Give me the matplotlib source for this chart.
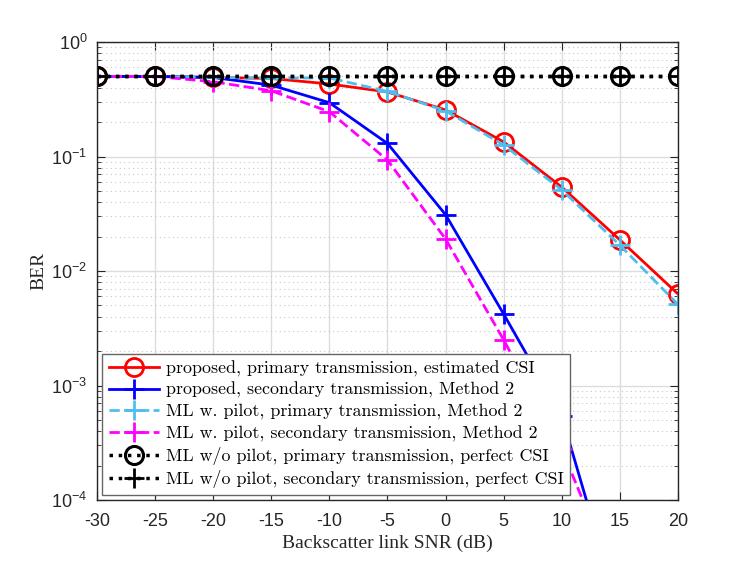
import matplotlib
matplotlib.use("Agg")
import matplotlib.pyplot as plt
from matplotlib.ticker import LogLocator, NullFormatter

plt.rcParams["mathtext.fontset"] = "custom"
plt.rcParams["mathtext.rm"] = "Liberation Sans"
plt.rcParams["mathtext.it"] = "Liberation Sans"

snr = [-30, -25, -20, -15, -10, -5, 0, 5, 10, 15, 20]

ber_prop_primary = [0.5, 0.5, 0.49, 0.48, 0.43, 0.366, 0.255, 0.134, 0.054, 0.0187, 0.0063]
ber_prop_secondary = [0.5, 0.5, 0.49, 0.42, 0.295, 0.13, 0.031, 0.0042, 5.4e-4, 1.0e-5, 2.0e-7]
ber_ml_primary = [0.5, 0.5, 0.49, 0.485, 0.485, 0.37, 0.25, 0.126, 0.051, 0.0168, 0.0051]
ber_ml_secondary = [0.5, 0.5, 0.45, 0.375, 0.246, 0.093, 0.019, 0.0025, 2.8e-4, 1.6e-5, 4.0e-7]
ber_nopilot_primary = [0.5] * 11
ber_nopilot_secondary = [0.5] * 11

labels = [
    "proposed, primary transmission, estimated CSI",
    "proposed, secondary transmission, Method 2",
    "ML w. pilot, primary transmission, Method 2",
    "ML w. pilot, secondary transmission, Method 2",
    "ML w/o pilot, primary transmission, perfect CSI",
    "ML w/o pilot, secondary transmission, perfect CSI",
]

fig = plt.figure(figsize=(7.47, 5.61), dpi=100)
ax = fig.add_axes([97 / 747, 61 / 561, 581 / 747, 458 / 561])

ax.semilogy(snr, ber_prop_primary, color="red", ls="-", lw=2, marker="o",
            ms=13, mfc="none", mew=2, label=labels[0])
ax.semilogy(snr, ber_prop_secondary, color="blue", ls="-", lw=2, marker="+",
            ms=15, mew=2, label=labels[1])
ax.semilogy(snr, ber_ml_primary, color="#4dbeee", ls="--", lw=2, marker="+",
            ms=15, mew=2, label=labels[2])
ax.semilogy(snr, ber_ml_secondary, color="magenta", ls="--", lw=2, marker="+",
            ms=15, mew=2, label=labels[3])
ax.semilogy(snr, ber_nopilot_primary, color="black", ls=":", lw=2.5, marker="o",
            ms=13, mfc="none", mew=2.2, label=labels[4])
ax.semilogy(snr, ber_nopilot_secondary, color="black", ls=":", lw=2.5, marker="+",
            ms=15, mew=2, label=labels[5])

ax.set_xlim(-30, 20)
ax.set_ylim(1e-4, 1)
ax.set_xticks(snr)
ax.set_xticklabels([str(v) for v in snr])
ax.yaxis.set_major_locator(LogLocator(base=10, numticks=10))
ax.yaxis.set_minor_locator(LogLocator(base=10, subs=range(2, 10), numticks=20))
ax.yaxis.set_minor_formatter(NullFormatter())

ax.grid(True, which="major", color="#dcdcdc", lw=1, ls="-")
ax.grid(True, which="minor", axis="y", color="#c8c8c8", lw=0.8, ls=(0, (1, 3)))
ax.set_axisbelow(True)

for s in ax.spines.values():
    s.set_color("#262626")
    s.set_linewidth(1)
ax.tick_params(which="both", direction="in", top=True, right=True,
               colors="#262626", labelsize=13)
ax.tick_params(which="major", length=6)
ax.tick_params(which="minor", length=3)
ax.tick_params(axis="x", pad=9)
ax.tick_params(axis="y", pad=7)
for t in ax.get_xticklabels() + ax.get_yticklabels():
    t.set_fontfamily("Liberation Sans")
    t.set_color("#262626")

ax.set_xlabel("Backscatter link SNR (dB)", fontfamily="Liberation Serif",
              fontsize=14, color="#262626", labelpad=4)
ax.set_ylabel("BER", fontfamily="Liberation Serif", fontsize=14,
              color="#262626", labelpad=3)

leg = ax.legend(loc="lower left", prop={"family": "cmr10", "size": 12.9},
                frameon=True, fancybox=False, framealpha=1, edgecolor="#666666",
                borderpad=0.35, labelspacing=0.3, handlelength=2.8,
                handletextpad=0.4, borderaxespad=0.3)
leg.get_frame().set_linewidth(1)

fig.savefig("out.png", dpi=100)
